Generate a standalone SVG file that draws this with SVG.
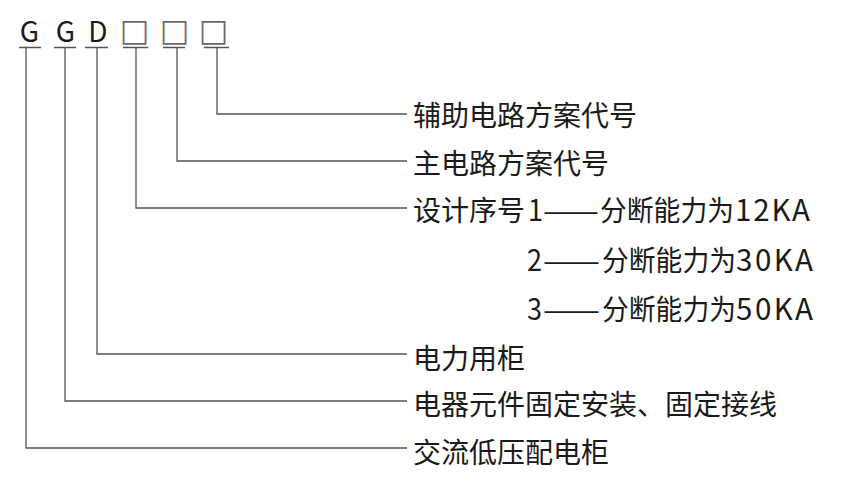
<svg xmlns="http://www.w3.org/2000/svg" width="851" height="491" viewBox="0 0 851 491">
<style>
.c{font-family:"Noto Sans CJK SC","Noto Sans",sans-serif;fill:#1a1a1a}
.h{font-size:28px;text-anchor:middle}
.b{font-family:"DejaVu Sans",sans-serif;font-size:31px;text-anchor:middle;fill:#6a6a6a}
.t{font-size:28px}
.l{font-size:29.5px}
.ln{fill:none;stroke:#555;stroke-width:1.3}
</style>
<rect width="851" height="491" fill="#fff"/>
<g id="code">
<text class="c h" x="29.5" y="42">G</text>
<text class="c h" x="65.5" y="42">G</text>
<text class="c h" x="98" y="42">D</text>
<text class="b" x="134.5" y="41">□</text>
<text class="b" x="174.5" y="41">□</text>
<text class="b" x="213.5" y="41">□</text>
</g>
<g id="connectors" class="ln">
<path d="M19 47.5H41M54 47.5H76M85 47.5H108M123 47.5H148M163 47.5H185M204 47.5H229"/>
<path d="M217 47.5V114H407"/>
<path d="M177 47.5V161H407"/>
<path d="M136 47.5V208H407"/>
<path d="M97 47.5V354H407"/>
<path d="M65 47.5V401H407"/>
<path d="M26 47.5V448H407"/>
</g>
<g id="n1"><text class="c t" x="413" y="126">辅助电路方案代号</text></g>
<g id="n2"><text class="c t" x="413" y="174">主电路方案代号</text></g>
<g id="n3"><text class="c t" x="413" y="221">设计序号<tspan class="l" x="528" textLength="15" lengthAdjust="spacingAndGlyphs">1</tspan><tspan x="543" textLength="56" lengthAdjust="spacingAndGlyphs">——</tspan><tspan x="600" textLength="134" lengthAdjust="spacingAndGlyphs">分断能力为</tspan><tspan class="l" x="735" textLength="75" lengthAdjust="spacing">12KA</tspan></text></g>
<g id="n3b"><text class="c t" x="527" y="271"><tspan class="l" textLength="15" lengthAdjust="spacingAndGlyphs">2</tspan><tspan x="543" textLength="57" lengthAdjust="spacingAndGlyphs">——</tspan><tspan x="602" textLength="134" lengthAdjust="spacingAndGlyphs">分断能力为</tspan><tspan class="l" x="736" textLength="77" lengthAdjust="spacing">30KA</tspan></text></g>
<g id="n3c"><text class="c t" x="527" y="320"><tspan class="l" textLength="15" lengthAdjust="spacingAndGlyphs">3</tspan><tspan x="543" textLength="57" lengthAdjust="spacingAndGlyphs">——</tspan><tspan x="602" textLength="134" lengthAdjust="spacingAndGlyphs">分断能力为</tspan><tspan class="l" x="736" textLength="77" lengthAdjust="spacing">50KA</tspan></text></g>
<g id="n4"><text class="c t" x="413" y="369">电力用柜</text></g>
<g id="n5"><text class="c t" x="413" y="415">电器元件固定安装、固定接线</text></g>
<g id="n6"><text class="c t" x="413" y="463">交流低压配电柜</text></g>
</svg>
